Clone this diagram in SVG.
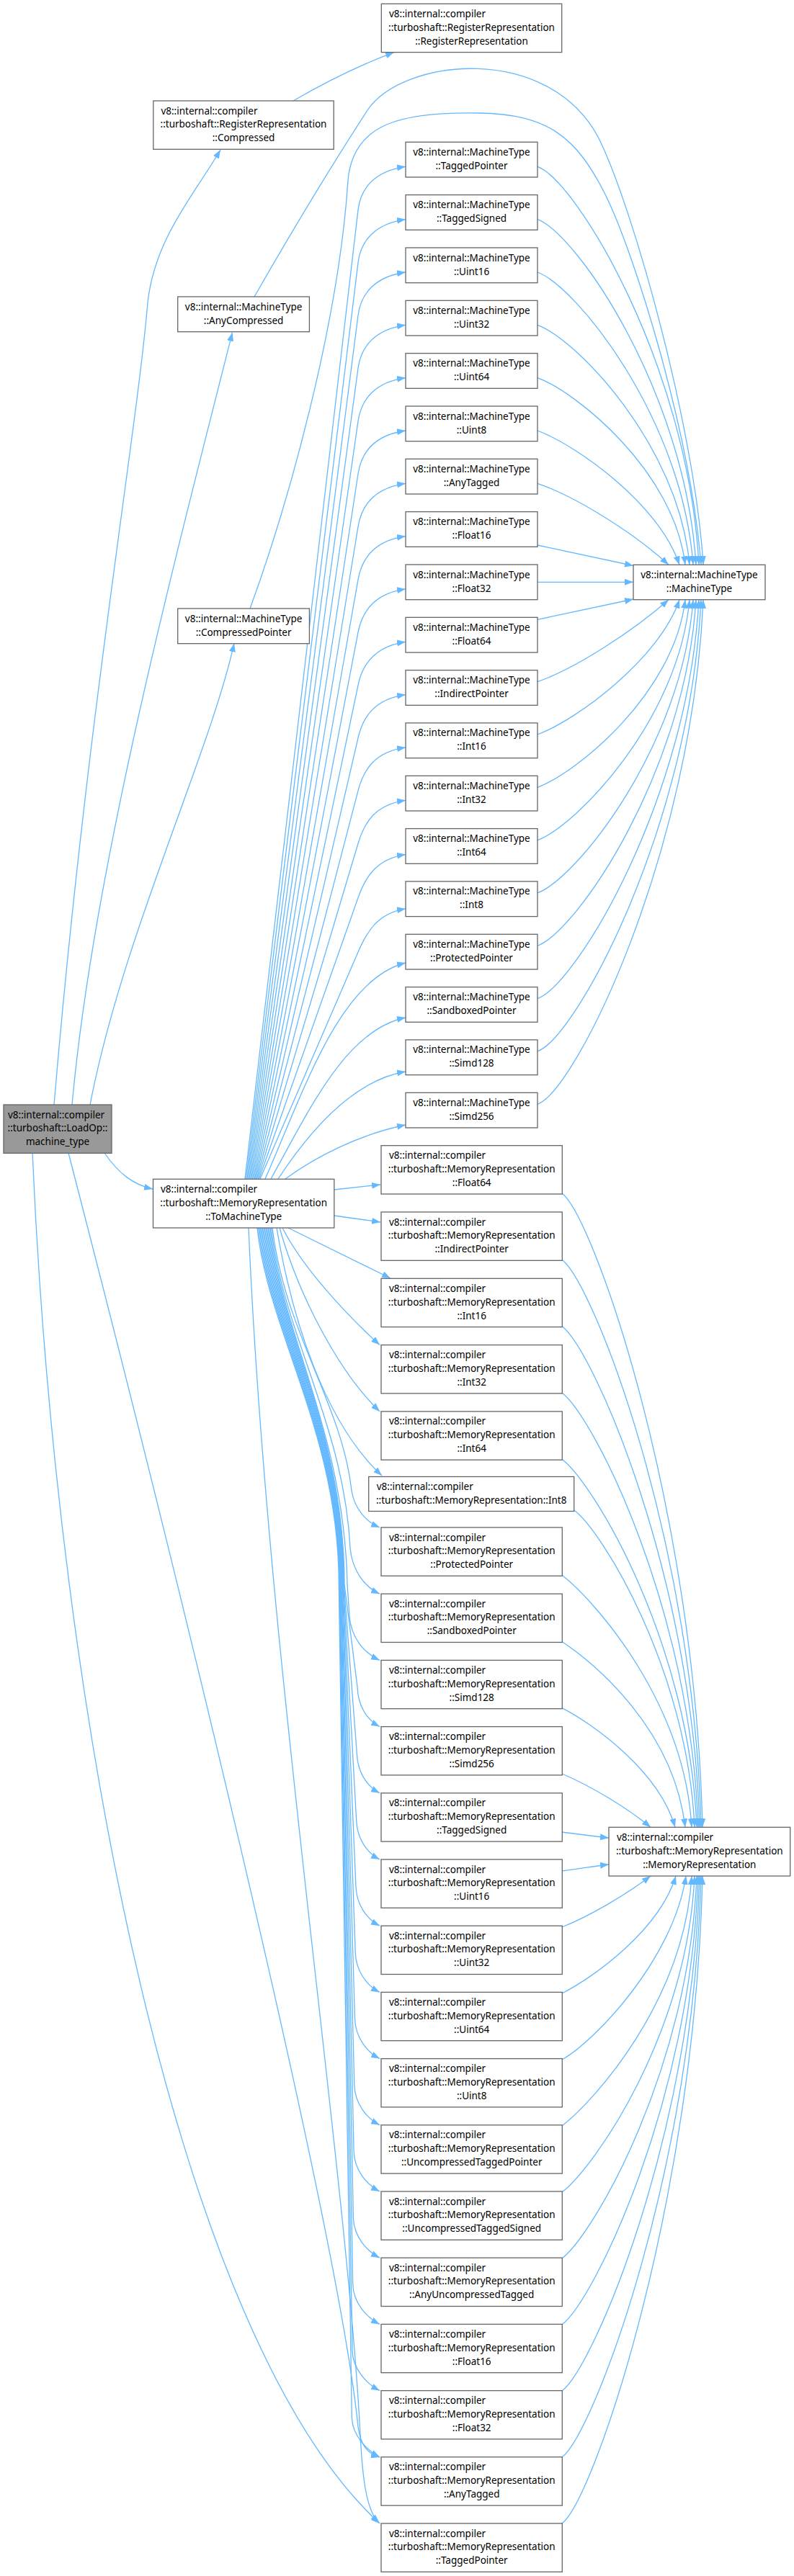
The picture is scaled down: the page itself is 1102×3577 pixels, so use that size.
<svg xmlns="http://www.w3.org/2000/svg" width="1102" height="3577" viewBox="0 0 1102 3577">
<style>
.n rect{fill:#fff;stroke:#666;stroke-width:1.3}
.root rect{fill:#999}
text{font-family:"Noto Sans","DejaVu Sans",sans-serif;font-size:13.5px;fill:#000}
.c{text-anchor:middle}
.e path{fill:none;stroke:#63b8ff;stroke-width:1.3;marker-end:url(#a)}
</style>
<defs>
<marker id="a" viewBox="0 0 12 9" refX="12" refY="4.5" markerWidth="12" markerHeight="9" markerUnits="userSpaceOnUse" orient="auto"><path d="M0,0 L12,4.5 L0,9 Z" fill="#63b8ff"/></marker>
</defs>
<rect width="1102" height="3577" fill="#fff"/>
<g id="edges" class="e">
<!-- root edges -->
<path d="M75,1534 C120,1000 190,600 205,420 C215,330 270,270 306,208"/>
<path d="M100,1534 C130,1200 250,750 322.5,461.7"/>
<path d="M125,1534 C170,1300 290,1050 325,893.3"/>
<path d="M145,1601 C165,1630 185,1645 212,1651"/>
<path d="M95,1601 C250,2200 470,3100 497,3370 C500,3392 508,3407 527,3412"/>
<path d="M45,1601 C80,2400 250,3250 527,3504"/>
<!-- Compressed -> RegisterRepresentation -->
<path d="M407,140 C450,115 500,90 547,72.6"/>
<!-- AnyCompressed / CompressedPointer -> MachineType -->
<path d="M353,412 C400,330 460,230 510,153 C560,80 760,60 830,190 C880,290 965,600 976,784.3"/>
<path d="M347,845 C400,700 470,450 483,250 C490,170 560,155 664,157 C760,158 800,190 840,270 C880,350 958,600 973,784.3"/>
<!-- ToMachineType -> MachineType::X -->
<path d="M340,1637 L497,291.3 C500.5,261.5 520,237.3 563,231.3"/>
<path d="M341.5,1637 L497,364.6 C500.6,334.8 520,310.6 563,304.6"/>
<path d="M343,1637 L497,438 C500.8,408.2 520,384 563,378"/>
<path d="M344.5,1637 L497,511.3 C501,481.6 520,457.3 563,451.3"/>
<path d="M346,1637 L497,584.6 C501.3,554.9 520,530.6 563,524.6"/>
<path d="M347.5,1637 L497,658 C501.5,628.3 520,604 563,598"/>
<path d="M349,1637 L497,731.3 C501.8,701.7 520,677.3 563,671.3"/>
<path d="M350.5,1637 L497,804.6 C502.2,775 520,750.6 563,744.6"/>
<path d="M352,1637 L497,877.9 C502.6,848.4 520,823.9 563,817.9"/>
<path d="M353.5,1637 L497,951.3 C503.1,921.9 520,897.3 563,891.3"/>
<path d="M355,1637 L497,1024.6 C503.8,995.4 520,970.6 563,964.6"/>
<path d="M356.5,1637 L497,1097.9 C504.6,1068.9 520,1043.9 563,1037.9"/>
<path d="M358,1637 L497,1171.3 C505.6,1142.6 520,1117.3 563,1111.3"/>
<path d="M359.5,1637 L497,1246.6 C507,1218.3 522,1192.6 563,1186.6"/>
<path d="M361,1637 L497,1321.9 C508.9,1294.4 524,1267.9 563,1261.9"/>
<path d="M368,1637 C420,1520 470,1360 563,1337"/>
<path d="M376,1637 C430,1540 480,1430 563,1413"/>
<path d="M386,1637 C430,1570 490,1500 563,1488"/>
<path d="M396,1637 C440,1605 500,1575 563,1562"/>
<!-- MachineType::X -> MachineType::MachineType -->
<path d="M746,231.3 C800,251.3 955,507.8 970,784.3"/>
<path d="M746,304.6 C800,324.6 951,544.5 966,784.3"/>
<path d="M746,378 C800,398 947,581.2 962,784.3"/>
<path d="M746,451.3 C800,471.3 942,617.8 957,784.3"/>
<path d="M746,524.6 C800,544.6 936,654.5 951,784.3"/>
<path d="M746,598 C800,618 915,700 943,784.3"/>
<path d="M746,671.3 C800,690 880,740 928,784.3"/>
<path d="M746,757 L879,785.5"/>
<path d="M746,808.3 L879,808.3"/>
<path d="M746,860.3 L879,832"/>
<path d="M746,946.6 C800,928 880,875 928,832.7"/>
<path d="M746,1019.9 C800,1000 915,915 943,832.7"/>
<path d="M746,1093.3 C800,1073.3 936,963 951,832.7"/>
<path d="M746,1166.6 C800,1146.6 942,999.6 957,832.7"/>
<path d="M746,1239.9 C800,1219.9 947,1036.3 962,832.7"/>
<path d="M746,1313.3 C800,1293.3 951,1073 966,832.7"/>
<path d="M746,1386.6 C800,1366.6 955,1109.7 970,832.7"/>
<path d="M746,1459.9 C800,1439.9 958,1146.3 973,832.7"/>
<path d="M746,1533.3 C800,1513.3 961,1183 976,832.7"/>
<!-- ToMachineType -> MemoryRepresentation::X -->
<path d="M464,1652 L528,1645"/>
<path d="M464,1688 L528,1697"/>
<path d="M400,1705 L542,1775"/>
<path d="M392,1705 C420,1760 480,1825 527,1867.6"/>
<path d="M388,1705 C415,1800 470,1905 527,1959.9"/>
<path d="M384,1705 C405,1830 450,1975 530,2049"/>
<path d="M378,1705 C395,1850 475,1950 488,2070 C492,2095 508,2113 527,2121"/>
<path d="M376.5,1705 C392,1850 478,1980 486,2150 C489,2180 505,2203 527,2213.2"/>
<path d="M375,1705 C390,1850 478,1990 482,2200 L485,2245 C488,2275 505,2295 527,2305.4"/>
<path d="M373.5,1705 C388.5,1850 478,1990 478,2200 L496,2342.6 C497,2367.6 508,2387.6 527,2397.6"/>
<path d="M372,1705 C387,1850 477.3,1990 477.3,2200 L495.3,2434.8 C496.3,2459.8 508,2479.8 527,2489.8"/>
<path d="M370.5,1705 C385.5,1850 476.6,1990 476.6,2200 L494.6,2527 C495.6,2552 508,2572 527,2582"/>
<path d="M369,1705 C384,1850 475.9,1990 475.9,2200 L493.9,2619.2 C494.9,2644.2 508,2664.2 527,2674.2"/>
<path d="M367.5,1705 C382.5,1850 475.2,1990 475.2,2200 L493.2,2711.4 C494.2,2736.4 508,2756.4 527,2766.4"/>
<path d="M366,1705 C381,1850 474.5,1990 474.5,2200 L492.5,2803.6 C493.5,2828.6 508,2848.6 527,2858.6"/>
<path d="M364.5,1705 C379.5,1850 473.8,1990 473.8,2200 L491.8,2895.8 C492.8,2920.8 508,2940.8 527,2950.8"/>
<path d="M363,1705 C378,1850 473.1,1990 473.1,2200 L491.1,2988 C492.1,3013 508,3033 527,3043"/>
<path d="M361.5,1705 C376.5,1850 472.4,1990 472.4,2200 L490.4,3080.2 C491.4,3105.2 508,3125.2 527,3135.2"/>
<path d="M360,1705 C375,1850 471.7,1990 471.7,2200 L489.7,3172.4 C490.7,3197.4 508,3217.4 527,3227.4"/>
<path d="M358.5,1705 C373.5,1850 471,1990 471,2200 L489,3264.6 C490,3289.6 508,3309.6 527,3319.6"/>
<path d="M357,1705 C372,1850 470.3,1990 470.3,2200 L488.3,3356.8 C489.3,3381.8 508,3401.8 527,3411.8"/>
<path d="M345,1705 C370,2300 480,3000 500,3380 C503,3440 508,3485 526,3503.5"/>
<!-- MemoryRepresentation::X -> MemoryRepresentation::MemoryRepresentation -->
<path d="M780,1657 C825,1692 965,2097.7 975,2537.3"/>
<path d="M780,1749.3 C825,1784.3 963,2143.8 973,2537.3"/>
<path d="M780,1841.6 C825,1876.6 961,2189.9 971,2537.3"/>
<path d="M780,1933.9 C825,1968.9 959,2236.1 969,2537.3"/>
<path d="M780,2026.2 C825,2061.2 957,2282.2 967,2537.3"/>
<path d="M796.7,2097 C835,2125 954,2318 964,2537.3"/>
<path d="M780,2187.3 C825,2222.3 950,2362.8 960,2537.3"/>
<path d="M780,2279.5 C825,2310 935,2400 951,2537.3"/>
<path d="M780,2371.7 C825,2395 915,2460 937,2537.3"/>
<path d="M780,2463 C820,2480 870,2510 903,2537.3"/>
<path d="M780,2544 C805,2547 825,2550 845,2552"/>
<path d="M780,2598 C805,2595 825,2591 845,2589"/>
<path d="M780,2676 C820,2660 870,2630 903,2605"/>
<path d="M780,2768 C825,2745 915,2680 938,2605"/>
<path d="M780,2860 C825,2835 935,2720 952,2605"/>
<path d="M780,2952 C825,2917 950,2778.5 960,2605"/>
<path d="M780,3044 C825,3009 954,2824.5 964,2605"/>
<path d="M780,3136 C825,3101 957,2870.5 967,2605"/>
<path d="M780,3228 C825,3193 959,2916.5 969,2605"/>
<path d="M780,3320 C825,3285 961,2962.5 971,2605"/>
<path d="M780,3412 C825,3377 963,3008.5 973,2605"/>
<path d="M780,3504 C825,3469 965,3054.5 975,2605"/>
</g>
<g id="root" class="n root" transform="translate(5,1534)"><rect width="150" height="67.3"/><text x="6" y="18.5">v8::internal::compiler</text><text class="c" x="75" y="37.3">::turboshaft::LoadOp::</text><text class="c" x="75" y="56.3">machine_type</text></g>
<g id="rr_Compressed" class="n" transform="translate(212.8,140)"><rect width="250.4" height="67.3"/><text x="10.6" y="18.5">v8::internal::compiler</text><text class="c" x="125.2" y="37.3">::turboshaft::RegisterRepresentation</text><text class="c" x="125.2" y="56.3">::Compressed</text></g>
<g id="rr_RegisterRepresentation" class="n" transform="translate(529.3,5.3)"><rect width="250.4" height="67.3"/><text x="10.7" y="18.5">v8::internal::compiler</text><text class="c" x="125.2" y="37.3">::turboshaft::RegisterRepresentation</text><text class="c" x="125.2" y="56.3">::RegisterRepresentation</text></g>
<g id="mt_AnyCompressed" class="n" transform="translate(246.7,412)"><rect width="182.7" height="48.7"/><text class="c" x="91.4" y="18.6">v8::internal::MachineType</text><text class="c" x="91.4" y="37.6">::AnyCompressed</text></g>
<g id="mt_CompressedPointer" class="n" transform="translate(246.7,845)"><rect width="182.7" height="48.7"/><text class="c" x="91.4" y="18.6">v8::internal::MachineType</text><text class="c" x="91.4" y="37.6">::CompressedPointer</text></g>
<g id="mr_ToMachineType" class="n" transform="translate(212.5,1637.3)"><rect width="251.3" height="67.7"/><text x="10.5" y="18.5">v8::internal::compiler</text><text class="c" x="125.7" y="37.3">::turboshaft::MemoryRepresentation</text><text class="c" x="125.7" y="56.3">::ToMachineType</text></g>
<g id="mt_TaggedPointer" class="n" transform="translate(563,197.3)"><rect width="183" height="48.7"/><text class="c" x="91.5" y="18.6">v8::internal::MachineType</text><text class="c" x="91.5" y="37.6">::TaggedPointer</text></g>
<g id="mt_TaggedSigned" class="n" transform="translate(563,270.6)"><rect width="183" height="48.7"/><text class="c" x="91.5" y="18.6">v8::internal::MachineType</text><text class="c" x="91.5" y="37.6">::TaggedSigned</text></g>
<g id="mt_Uint16" class="n" transform="translate(563,344)"><rect width="183" height="48.7"/><text class="c" x="91.5" y="18.6">v8::internal::MachineType</text><text class="c" x="91.5" y="37.6">::Uint16</text></g>
<g id="mt_Uint32" class="n" transform="translate(563,417.3)"><rect width="183" height="48.7"/><text class="c" x="91.5" y="18.6">v8::internal::MachineType</text><text class="c" x="91.5" y="37.6">::Uint32</text></g>
<g id="mt_Uint64" class="n" transform="translate(563,490.6)"><rect width="183" height="48.7"/><text class="c" x="91.5" y="18.6">v8::internal::MachineType</text><text class="c" x="91.5" y="37.6">::Uint64</text></g>
<g id="mt_Uint8" class="n" transform="translate(563,564)"><rect width="183" height="48.7"/><text class="c" x="91.5" y="18.6">v8::internal::MachineType</text><text class="c" x="91.5" y="37.6">::Uint8</text></g>
<g id="mt_AnyTagged" class="n" transform="translate(563,637.3)"><rect width="183" height="48.7"/><text class="c" x="91.5" y="18.6">v8::internal::MachineType</text><text class="c" x="91.5" y="37.6">::AnyTagged</text></g>
<g id="mt_Float16" class="n" transform="translate(563,710.6)"><rect width="183" height="48.7"/><text class="c" x="91.5" y="18.6">v8::internal::MachineType</text><text class="c" x="91.5" y="37.6">::Float16</text></g>
<g id="mt_Float32" class="n" transform="translate(563,784)"><rect width="183" height="48.7"/><text class="c" x="91.5" y="18.6">v8::internal::MachineType</text><text class="c" x="91.5" y="37.6">::Float32</text></g>
<g id="mt_Float64" class="n" transform="translate(563,857.3)"><rect width="183" height="48.7"/><text class="c" x="91.5" y="18.6">v8::internal::MachineType</text><text class="c" x="91.5" y="37.6">::Float64</text></g>
<g id="mt_IndirectPointer" class="n" transform="translate(563,930.6)"><rect width="183" height="48.7"/><text class="c" x="91.5" y="18.6">v8::internal::MachineType</text><text class="c" x="91.5" y="37.6">::IndirectPointer</text></g>
<g id="mt_Int16" class="n" transform="translate(563,1003.9)"><rect width="183" height="48.7"/><text class="c" x="91.5" y="18.6">v8::internal::MachineType</text><text class="c" x="91.5" y="37.6">::Int16</text></g>
<g id="mt_Int32" class="n" transform="translate(563,1077.3)"><rect width="183" height="48.7"/><text class="c" x="91.5" y="18.6">v8::internal::MachineType</text><text class="c" x="91.5" y="37.6">::Int32</text></g>
<g id="mt_Int64" class="n" transform="translate(563,1150.6)"><rect width="183" height="48.7"/><text class="c" x="91.5" y="18.6">v8::internal::MachineType</text><text class="c" x="91.5" y="37.6">::Int64</text></g>
<g id="mt_Int8" class="n" transform="translate(563,1223.9)"><rect width="183" height="48.7"/><text class="c" x="91.5" y="18.6">v8::internal::MachineType</text><text class="c" x="91.5" y="37.6">::Int8</text></g>
<g id="mt_ProtectedPointer" class="n" transform="translate(563,1297.3)"><rect width="183" height="48.7"/><text class="c" x="91.5" y="18.6">v8::internal::MachineType</text><text class="c" x="91.5" y="37.6">::ProtectedPointer</text></g>
<g id="mt_SandboxedPointer" class="n" transform="translate(563,1370.6)"><rect width="183" height="48.7"/><text class="c" x="91.5" y="18.6">v8::internal::MachineType</text><text class="c" x="91.5" y="37.6">::SandboxedPointer</text></g>
<g id="mt_Simd128" class="n" transform="translate(563,1443.9)"><rect width="183" height="48.7"/><text class="c" x="91.5" y="18.6">v8::internal::MachineType</text><text class="c" x="91.5" y="37.6">::Simd128</text></g>
<g id="mt_Simd256" class="n" transform="translate(563,1517.3)"><rect width="183" height="48.7"/><text class="c" x="91.5" y="18.6">v8::internal::MachineType</text><text class="c" x="91.5" y="37.6">::Simd256</text></g>
<g id="mt_MachineType" class="n" transform="translate(879,784.3)"><rect width="183" height="48.4"/><text class="c" x="91.5" y="18.6">v8::internal::MachineType</text><text class="c" x="91.5" y="37.6">::MachineType</text></g>
<g id="mr_Float64" class="n" transform="translate(529,1590.7)"><rect width="251.3" height="67.3"/><text x="11" y="18.5">v8::internal::compiler</text><text class="c" x="125.7" y="37.3">::turboshaft::MemoryRepresentation</text><text class="c" x="125.7" y="56.3">::Float64</text></g>
<g id="mr_IndirectPointer" class="n" transform="translate(529,1683)"><rect width="251.3" height="67.3"/><text x="11" y="18.5">v8::internal::compiler</text><text class="c" x="125.7" y="37.3">::turboshaft::MemoryRepresentation</text><text class="c" x="125.7" y="56.3">::IndirectPointer</text></g>
<g id="mr_Int16" class="n" transform="translate(529,1775.3)"><rect width="251.3" height="67.3"/><text x="11" y="18.5">v8::internal::compiler</text><text class="c" x="125.7" y="37.3">::turboshaft::MemoryRepresentation</text><text class="c" x="125.7" y="56.3">::Int16</text></g>
<g id="mr_Int32" class="n" transform="translate(529,1867.6)"><rect width="251.3" height="67.3"/><text x="11" y="18.5">v8::internal::compiler</text><text class="c" x="125.7" y="37.3">::turboshaft::MemoryRepresentation</text><text class="c" x="125.7" y="56.3">::Int32</text></g>
<g id="mr_Int64" class="n" transform="translate(529,1959.9)"><rect width="251.3" height="67.3"/><text x="11" y="18.5">v8::internal::compiler</text><text class="c" x="125.7" y="37.3">::turboshaft::MemoryRepresentation</text><text class="c" x="125.7" y="56.3">::Int64</text></g>
<g id="mr_Int8" class="n" transform="translate(511.7,2050.5)"><rect width="285" height="48"/><text x="11" y="18.5">v8::internal::compiler</text><text class="c" x="142.5" y="37.3">::turboshaft::MemoryRepresentation::Int8</text></g>
<g id="mr_ProtectedPointer" class="n" transform="translate(529,2121)"><rect width="251.3" height="67.3"/><text x="11" y="18.5">v8::internal::compiler</text><text class="c" x="125.7" y="37.3">::turboshaft::MemoryRepresentation</text><text class="c" x="125.7" y="56.3">::ProtectedPointer</text></g>
<g id="mr_SandboxedPointer" class="n" transform="translate(529,2213.2)"><rect width="251.3" height="67.3"/><text x="11" y="18.5">v8::internal::compiler</text><text class="c" x="125.7" y="37.3">::turboshaft::MemoryRepresentation</text><text class="c" x="125.7" y="56.3">::SandboxedPointer</text></g>
<g id="mr_Simd128" class="n" transform="translate(529,2305.4)"><rect width="251.3" height="67.3"/><text x="11" y="18.5">v8::internal::compiler</text><text class="c" x="125.7" y="37.3">::turboshaft::MemoryRepresentation</text><text class="c" x="125.7" y="56.3">::Simd128</text></g>
<g id="mr_Simd256" class="n" transform="translate(529,2397.6)"><rect width="251.3" height="67.3"/><text x="11" y="18.5">v8::internal::compiler</text><text class="c" x="125.7" y="37.3">::turboshaft::MemoryRepresentation</text><text class="c" x="125.7" y="56.3">::Simd256</text></g>
<g id="mr_TaggedSigned" class="n" transform="translate(529,2489.8)"><rect width="251.3" height="67.3"/><text x="11" y="18.5">v8::internal::compiler</text><text class="c" x="125.7" y="37.3">::turboshaft::MemoryRepresentation</text><text class="c" x="125.7" y="56.3">::TaggedSigned</text></g>
<g id="mr_Uint16" class="n" transform="translate(529,2582)"><rect width="251.3" height="67.3"/><text x="11" y="18.5">v8::internal::compiler</text><text class="c" x="125.7" y="37.3">::turboshaft::MemoryRepresentation</text><text class="c" x="125.7" y="56.3">::Uint16</text></g>
<g id="mr_Uint32" class="n" transform="translate(529,2674.2)"><rect width="251.3" height="67.3"/><text x="11" y="18.5">v8::internal::compiler</text><text class="c" x="125.7" y="37.3">::turboshaft::MemoryRepresentation</text><text class="c" x="125.7" y="56.3">::Uint32</text></g>
<g id="mr_Uint64" class="n" transform="translate(529,2766.4)"><rect width="251.3" height="67.3"/><text x="11" y="18.5">v8::internal::compiler</text><text class="c" x="125.7" y="37.3">::turboshaft::MemoryRepresentation</text><text class="c" x="125.7" y="56.3">::Uint64</text></g>
<g id="mr_Uint8" class="n" transform="translate(529,2858.6)"><rect width="251.3" height="67.3"/><text x="11" y="18.5">v8::internal::compiler</text><text class="c" x="125.7" y="37.3">::turboshaft::MemoryRepresentation</text><text class="c" x="125.7" y="56.3">::Uint8</text></g>
<g id="mr_UncompressedTaggedPointer" class="n" transform="translate(529,2950.8)"><rect width="251.3" height="67.3"/><text x="11" y="18.5">v8::internal::compiler</text><text class="c" x="125.7" y="37.3">::turboshaft::MemoryRepresentation</text><text class="c" x="125.7" y="56.3">::UncompressedTaggedPointer</text></g>
<g id="mr_UncompressedTaggedSigned" class="n" transform="translate(529,3043)"><rect width="251.3" height="67.3"/><text x="11" y="18.5">v8::internal::compiler</text><text class="c" x="125.7" y="37.3">::turboshaft::MemoryRepresentation</text><text class="c" x="125.7" y="56.3">::UncompressedTaggedSigned</text></g>
<g id="mr_AnyUncompressedTagged" class="n" transform="translate(529,3135.2)"><rect width="251.3" height="67.3"/><text x="11" y="18.5">v8::internal::compiler</text><text class="c" x="125.7" y="37.3">::turboshaft::MemoryRepresentation</text><text class="c" x="125.7" y="56.3">::AnyUncompressedTagged</text></g>
<g id="mr_Float16" class="n" transform="translate(529,3227.4)"><rect width="251.3" height="67.3"/><text x="11" y="18.5">v8::internal::compiler</text><text class="c" x="125.7" y="37.3">::turboshaft::MemoryRepresentation</text><text class="c" x="125.7" y="56.3">::Float16</text></g>
<g id="mr_Float32" class="n" transform="translate(529,3319.6)"><rect width="251.3" height="67.3"/><text x="11" y="18.5">v8::internal::compiler</text><text class="c" x="125.7" y="37.3">::turboshaft::MemoryRepresentation</text><text class="c" x="125.7" y="56.3">::Float32</text></g>
<g id="mr_AnyTagged" class="n" transform="translate(529,3411.8)"><rect width="251.3" height="67.3"/><text x="11" y="18.5">v8::internal::compiler</text><text class="c" x="125.7" y="37.3">::turboshaft::MemoryRepresentation</text><text class="c" x="125.7" y="56.3">::AnyTagged</text></g>
<g id="mr_TaggedPointer" class="n" transform="translate(529,3504)"><rect width="251.3" height="67.3"/><text x="11" y="18.5">v8::internal::compiler</text><text class="c" x="125.7" y="37.3">::turboshaft::MemoryRepresentation</text><text class="c" x="125.7" y="56.3">::TaggedPointer</text></g>
<g id="mr_MemoryRepresentation" class="n" transform="translate(845,2537.3)"><rect width="251.7" height="67.7"/><text x="11" y="18.5">v8::internal::compiler</text><text class="c" x="125.8" y="37.3">::turboshaft::MemoryRepresentation</text><text class="c" x="125.8" y="56.3">::MemoryRepresentation</text></g>
</svg>
